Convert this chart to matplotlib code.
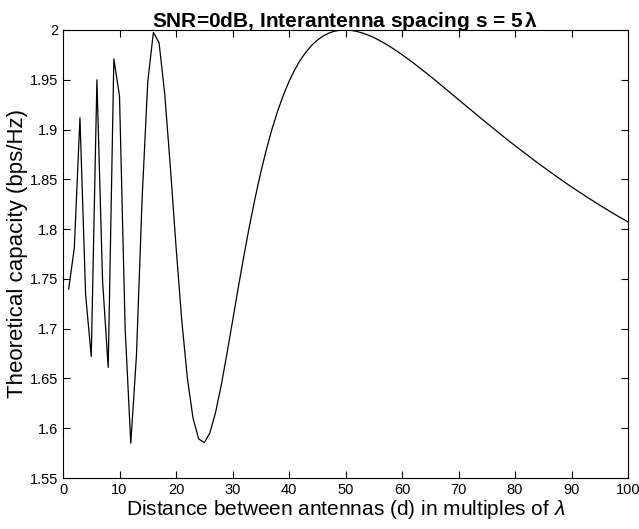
import numpy as np
import matplotlib
matplotlib.use("Agg")
import matplotlib.pyplot as plt

plt.rcParams["font.family"] = ["Liberation Sans", "DejaVu Sans"]
plt.rcParams["mathtext.fontset"] = "custom"
plt.rcParams["mathtext.it"] = "Liberation Sans:italic"
plt.rcParams["mathtext.bf"] = "Liberation Sans:bold"

# distance d in multiples of lambda
dist = list(range(1, 101))
capacity = [
    1.7397, 1.7809, 1.9118, 1.7342, 1.6720, 1.9499, 1.7482, 1.6610, 1.9709, 1.9337,
    1.6997, 1.5850, 1.6732, 1.8303, 1.9480, 1.9976, 1.9873, 1.9359, 1.8623, 1.7827,
    1.7095, 1.6508, 1.6105, 1.5894, 1.5854, 1.5954, 1.6158, 1.6430, 1.6743, 1.7074,
    1.7406, 1.7727, 1.8031, 1.8312, 1.8569, 1.8800, 1.9006, 1.9187, 1.9345, 1.9482,
    1.9598, 1.9697, 1.9778, 1.9845, 1.9897, 1.9938, 1.9967, 1.9987, 1.9997, 2.0000,
    1.9996, 1.9985, 1.9969, 1.9949, 1.9924, 1.9895, 1.9863, 1.9828, 1.9791, 1.9752,
    1.9711, 1.9669, 1.9625, 1.9580, 1.9535, 1.9489, 1.9442, 1.9395, 1.9348, 1.9300,
    1.9253, 1.9206, 1.9159, 1.9112, 1.9065, 1.9019, 1.8973, 1.8927, 1.8882, 1.8838,
    1.8794, 1.8751, 1.8708, 1.8665, 1.8624, 1.8583, 1.8542, 1.8502, 1.8463, 1.8424,
    1.8386, 1.8349, 1.8312, 1.8276, 1.8240, 1.8205, 1.8171, 1.8137, 1.8104, 1.8072,
]
xticks = list(range(0, 101, 10))
yticks = [1.55, 1.6, 1.65, 1.7, 1.75, 1.8, 1.85, 1.9, 1.95, 2.0]
ytick_labels = ["1.55", "1.6", "1.65", "1.7", "1.75", "1.8", "1.85", "1.9", "1.95", "2"]

fig = plt.figure(figsize=(6.39, 5.29), dpi=100)
ax = fig.add_axes([0.0986, 0.0964, 0.8842, 0.8470])
ax.plot(dist, capacity, color="black", lw=0.9)
ax.set_xlim(0, 100); ax.set_ylim(1.55, 2.0)
ax.set_xticks(xticks); ax.set_yticks(yticks)
ax.set_yticklabels(ytick_labels)
ax.tick_params(direction="in", top=True, right=True, labelsize=10.5, length=5, width=0.8)
for s in ax.spines.values():
    s.set_linewidth(0.8)
ax.set_title(r"SNR=0dB, Interantenna spacing s = 5$\,\mathbf{\lambda}$",
             fontsize=15, fontweight="bold", pad=2)
ax.set_xlabel(r"Distance between antennas (d) in multiples of $\mathit{\lambda}$", fontsize=15, labelpad=1)
ax.set_ylabel("Theoretical capacity (bps/Hz)", fontsize=16, labelpad=1)
fig.savefig("out.png", dpi=100)
